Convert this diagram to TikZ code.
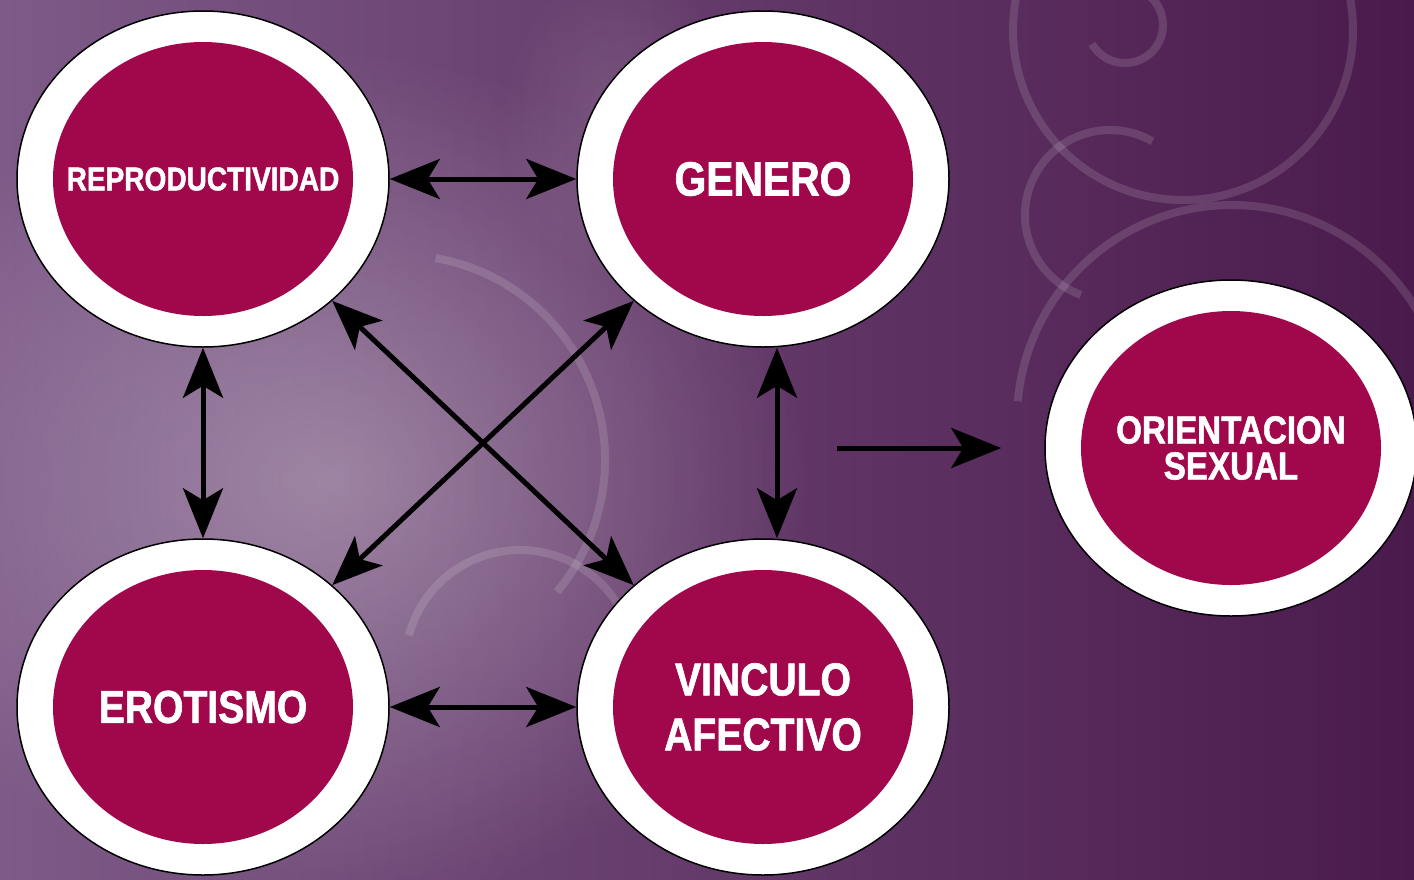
\documentclass[tikz,border=0pt]{standalone}
\usepackage{fontspec}
\usepackage{xcolor}
\usetikzlibrary{arrows.meta,shapes.geometric,fadings}
\newfontfamily\labelfont[FakeStretch=0.85,FakeBold=1.4]{Liberation Sans}
\definecolor{bgleft}{HTML}{7D5A87}
\definecolor{bgright}{HTML}{4A1A4C}
\definecolor{crimson}{HTML}{A0084B}
\tikzfading[name=glow, inner color=transparent!0, outer color=transparent!100]
\newcommand{\drawswirls}{
  \foreach \cx/\cy/\r/\a/\b in {1183/30/170/0/360, 1125/25/38/-60/150, 1232/420/215/185/355,
                                 1110/215/85/110/300, 400/460/205/-80/40, 520/665/115/195/345} {
    \draw[white, opacity=0.13, line width=8] (\cx,\cy) ++(\a:\r) arc[start angle=\a, end angle=\b, radius=\r];
  }
}

\begin{document}
\begin{tikzpicture}[x=1pt, y=-1pt,
    ring/.style={ellipse, draw=black, line width=1.5pt, fill=white,
      minimum width=372pt, minimum height=336pt, inner sep=0pt},
    core/.style={ellipse, fill=crimson, minimum width=300pt, minimum height=274pt,
      inner xsep=-60pt, inner ysep=0pt, text=white, align=center, font=\labelfont\bfseries#1},
    conn/.style={line width=5pt, black},
    >={Stealth[length=50pt, width=40pt, inset=12pt]}]
    \useasboundingbox (0,0) rectangle (1414,879);
    \shade[left color=bgleft, right color=bgright] (0,0) rectangle (1414,879);
    \begin{scope}
      \clip (0,0) rectangle (1414,879);
      \fill[white, opacity=0.32, path fading=glow] (330,480) ellipse[x radius=480, y radius=430];
      \fill[white, opacity=0.12, path fading=glow] (620,120) ellipse[x radius=120, y radius=160];
      \drawswirls{}
    \end{scope}

    \node[ring] (repro) at (203,179) {};
    \node[core={\fontsize{33}{38}\selectfont}] (repro-in) at (repro) {REPRODUCTIVIDAD};
    \node[ring] (genero) at (763,179) {};
    \node[core={\fontsize{48}{55}\selectfont}] (genero-in) at (genero) {GENERO};
    \node[ring] (erotismo) at (203,707) {};
    \node[core={\fontsize{46}{55}\selectfont}] (erotismo-in) at (erotismo) {EROTISMO};
    \node[ring] (vinculo) at (763,707) {};
    \node[core={\fontsize{46}{55}\selectfont}] (vinculo-in) at (vinculo) {VINCULO\\AFECTIVO};
    \node[ring] (orient) at (1231,448) {};
    \node[core={\fontsize{39}{36}\selectfont}] (orient-in) at (orient) {ORIENTACION\\SEXUAL};
    \coordinate (flow) at (837,448);

    \draw[conn, <->] (repro) -- (genero);
    \draw[conn, <->] (erotismo) -- (vinculo);
    \draw[conn, <->] (repro) -- (erotismo);
    \draw[conn, <->] ([xshift=14pt]genero.south) -- ([xshift=14pt]vinculo.north);
    \draw[conn, <->] (repro) -- (vinculo);
    \draw[conn, <->] (genero) -- (erotismo);
    \draw[conn, ->, shorten >=43pt] (flow) -- (orient);
\end{tikzpicture}
\end{document}
